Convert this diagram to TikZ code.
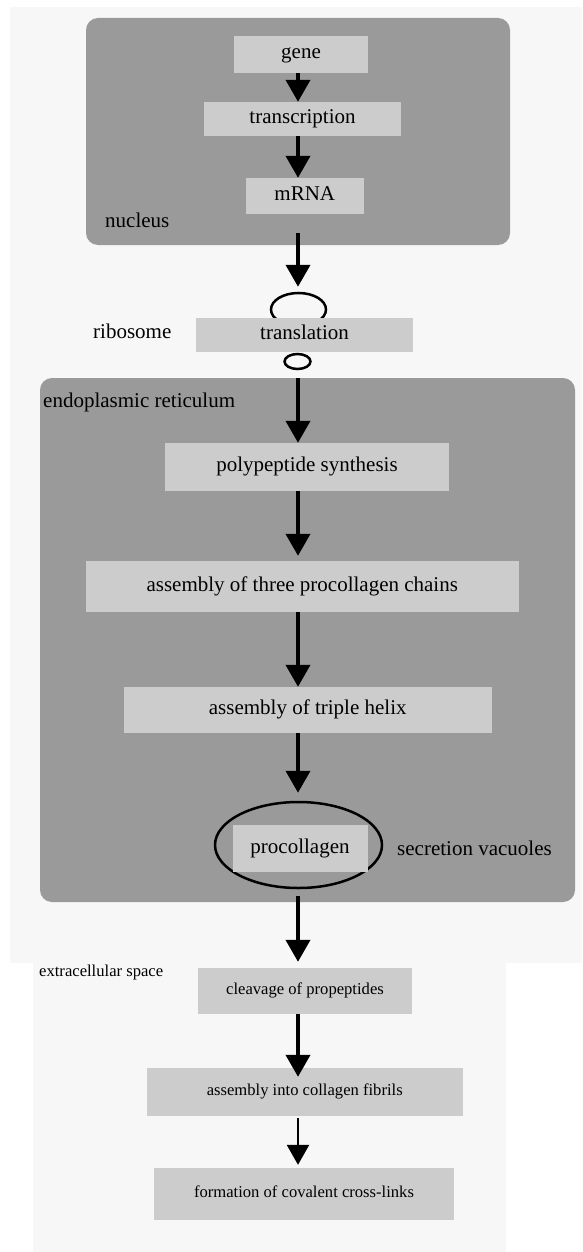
\documentclass[tikz,border=0pt]{standalone}
\usepackage{fontspec}
\setmainfont{Liberation Serif}
\usetikzlibrary{arrows.meta,shapes.geometric}
\definecolor{bglight}{HTML}{F7F7F7}
\definecolor{cellgrey}{HTML}{9A9A9A}
\definecolor{boxgrey}{HTML}{CCCCCC}
\begin{document}
\begin{tikzpicture}[x=1pt,y=-1pt,
  stepbox/.style={fill=boxgrey, inner sep=0pt, text height=14pt, text depth=5pt,
                  font=\fontsize{21}{25}\selectfont},
  smallbox/.style={fill=boxgrey, inner sep=0pt, text height=11pt, text depth=4pt,
                  font=\fontsize{16.6}{20}\selectfont},
  lbl/.style={anchor=west, inner sep=0pt, font=\fontsize{21}{25}\selectfont},
  smalllbl/.style={anchor=west, inner sep=0pt, font=\fontsize{16.6}{20}\selectfont},
  flow/.style={line width=4pt, -{Triangle[width=24pt,length=22pt]}},
  thinflow/.style={line width=2.5pt, -{Triangle[width=22pt,length=20pt]}},
  ring/.style={draw, line width=2.5pt, ellipse, inner sep=0pt}
]
\useasboundingbox (0,0) rectangle (582,1252);
\fill[white] (0,0) rectangle (582,1252);
\fill[bglight] (10,7) rectangle (582,963);
\fill[bglight] (33,963) rectangle (506,1252);

% compartments
\fill[cellgrey, rounded corners=12pt] (86,18) rectangle (510,245);
\fill[cellgrey, rounded corners=12pt] (40,378) rectangle (575,902);

\coordinate (ax) at (298,0);

% nucleus
\node[stepbox, minimum width=134pt, minimum height=37pt] (gene) at (301,54.5) {gene};
\node[stepbox, minimum width=197pt, minimum height=34pt] (transcription) at (302.5,119) {transcription};
\node[stepbox, minimum width=118.5pt, minimum height=36pt] (mRNA) at (304.75,196) {mRNA};
\node[lbl] (nucleus) at (105,220) {nucleus};

% ribosome (large subunit partly hidden behind the translation box)
\node[ring, minimum width=55pt, minimum height=33pt] (large) at (298.5,309.5) {};
\node[stepbox, minimum width=217pt, minimum height=34pt] (translation) at (304.5,335) {translation};
\node[lbl] (ribosome) at (93,331) {ribosome};
\node[ring, minimum width=26pt, minimum height=15pt] (sub) at (297.5,361.5) {};

% endoplasmic reticulum
\node[lbl] (er) at (43,402) {endoplasmic reticulum};
\node[stepbox, minimum width=284pt, minimum height=48pt] (poly) at (307,467) {polypeptide synthesis};
\node[stepbox, minimum width=432.5pt, minimum height=51pt] (three) at (302.25,586.5) {assembly of three procollagen chains};
\node[stepbox, minimum width=367.5pt, minimum height=46pt] (helix) at (307.75,710) {assembly of triple helix};
\node[ring, minimum width=167pt, minimum height=86pt] (vac) at (298.5,845) {};
\node[stepbox, minimum width=135pt, minimum height=47pt] (procollagen) at (300,848.5) {procollagen};
\node[lbl] (secretion) at (397,848) {secretion vacuoles};

% extracellular space
\node[smalllbl] (extra) at (39,972) {extracellular space};
\node[smallbox, minimum width=214pt, minimum height=46pt] (cleavage) at (305,991) {cleavage of propeptides};
\node[smallbox, minimum width=315.5pt, minimum height=48pt] (fibrils) at (304.75,1092) {assembly into collagen fibrils};
\node[smallbox, minimum width=300pt, minimum height=52pt] (crosslinks) at (304,1194) {formation of covalent cross-links};

% connectors
\draw[flow] (gene.south -| ax) -- (transcription.north -| ax);
\draw[flow] (transcription.south -| ax) -- (mRNA.north -| ax);
\draw[flow, shorten <=19pt, shorten >=5pt] (mRNA.south -| ax) -- (large.north -| ax);
\draw[flow, shorten <=8pt] (sub.south -| ax) -- (poly.north -| ax);
\draw[flow, shorten >=5pt] (poly.south -| ax) -- (three.north -| ax);
\draw[flow] (three.south -| ax) -- (helix.north -| ax);
\draw[flow, shorten >=8pt] (helix.south -| ax) -- (vac.north -| ax);
\draw[flow, shorten <=7pt, shorten >=6pt] (vac.south -| ax) -- (cleavage.north -| ax);
\draw[flow, shorten >=-9pt] (cleavage.south -| ax) -- (fibrils.north -| ax);
\draw[thinflow, shorten <=2pt, shorten >=3pt] (fibrils.south -| ax) -- (crosslinks.north -| ax);
\end{tikzpicture}
\end{document}
